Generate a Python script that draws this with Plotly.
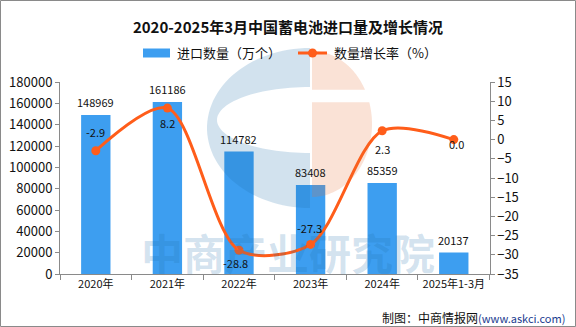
import numpy as np
import plotly.graph_objects as go
from plotly.subplots import make_subplots

categories = ["2020年", "2021年", "2022年", "2023年", "2024年", "2025年1-3月"]
import_qty = [148969, 161186, 114782, 83408, 85359, 20137]
growth = [-2.9, 8.2, -28.8, -27.3, 2.3, 0.0]
growth_labels = ["-2.9", "8.2", "-28.8", "-27.3", "2.3", "0.0"]
label_shift = [19, -15, -13, 16, -18, -4]  # pixel offsets for growth labels (positive = up)
label_xshift = [0, 0, -3, -1, 0, 3]

W, H = 576, 327
L, R, T, B = 60, 59, 82, 53
PW, PH = W - L - R, H - T - B

def px(x):
    return (x - L) / PW

def py(y):
    return (H - B - y) / PH

FONT = "Noto Sans CJK SC"
BAR_C = "#3d9ef0"
LINE_C = "#ff5d1a"

fig = make_subplots(specs=[[{"secondary_y": True}]])
fig.add_trace(go.Bar(
    x=categories, y=import_qty, name="进口数量（万个）", showlegend=False,
    marker=dict(color=BAR_C, line=dict(width=0)), width=0.41,
), secondary_y=False)
fig.add_trace(go.Scatter(
    x=categories, y=growth, name="数量增长率（%）", mode="lines+markers", showlegend=False,
    line=dict(color=LINE_C, width=3, shape="spline", smoothing=0.85),
    marker=dict(size=9, color=LINE_C), cliponaxis=False,
), secondary_y=True)

annotations = []
for c, v in zip(categories, import_qty):
    annotations.append(dict(x=c, y=v, xref="x", yref="y", text=str(v), showarrow=False,
                            yshift=13, font=dict(size=11, color="#111", family=FONT)))
for c, g, t, dy, dx in zip(categories, growth, growth_labels, label_shift, label_xshift):
    annotations.append(dict(x=c, y=g, xref="x", yref="y2", text=t, showarrow=False,
                            yshift=dy, xshift=dx, font=dict(size=11, color="#111", family=FONT)))

# watermark text
annotations.append(dict(x=px(288), y=py(251), xref="paper", yref="paper", yanchor="middle",
                        text="<b>中商产业研究院</b>", showarrow=False,
                        font=dict(size=42, color="rgba(30,110,170,0.2)", family=FONT)))
# source
annotations.append(dict(x=px(567), y=py(317), xref="paper", yref="paper", xanchor="right", yanchor="middle",
                        text="制图：中商情报网<span style='font-size:11px;color:#1a3c8f'>(www.askci.com)</span>",
                        showarrow=False, font=dict(size=12, color="#111", family=FONT)))
# legend texts
annotations.append(dict(x=px(175), y=py(53), xref="paper", yref="paper", xanchor="left", yanchor="middle",
                        text="进口数量（万个）", showarrow=False, font=dict(size=13, family=FONT, color="#111")))
annotations.append(dict(x=px(332), y=py(53), xref="paper", yref="paper", xanchor="left", yanchor="middle",
                        text="数量增长率（%）", showarrow=False, font=dict(size=13, family=FONT, color="#111")))

shapes = []
# logo watermark: blue C
th = np.linspace(np.pi / 2, 3 * np.pi / 2, 60)
outer = [(310 + 103 * np.cos(a), 128 - 80 * np.sin(a)) for a in th]
inner = [(310 + 93 * np.cos(a), 120 - 33 * np.sin(a)) for a in th[::-1]]
pts = outer + inner
path = "M " + " L ".join(f"{px(x):.4f},{py(y):.4f}" for x, y in pts) + " Z"
shapes.append(dict(type="path", path=path, xref="paper", yref="paper",
                   fillcolor="rgba(30,110,170,0.2)", line=dict(width=0), layer="above"))
# pink right half, split by a horizontal gap
th2 = np.linspace(-np.pi / 2, np.pi / 2, 120)
ell = [(312 + 60 * np.cos(a), 124 + 73 * np.sin(a)) for a in th2]
upper = [p for p in ell if p[1] <= 90]
lower = [p for p in ell if p[1] >= 102]
for piece in (upper, lower):
    pp = [(312, piece[0][1])] + piece + [(312, piece[-1][1])]
    path = "M " + " L ".join(f"{px(x):.4f},{py(y):.4f}" for x, y in pp) + " Z"
    shapes.append(dict(type="path", path=path, xref="paper", yref="paper",
                       fillcolor="rgba(230,110,50,0.2)", line=dict(width=0), layer="above"))
# legend symbols
shapes.append(dict(type="rect", xref="paper", yref="paper", x0=px(143), x1=px(170),
                   y0=py(57.5), y1=py(48.5), fillcolor=BAR_C, line=dict(width=0)))
shapes.append(dict(type="line", xref="paper", yref="paper", x0=px(298), x1=px(327),
                   y0=py(53), y1=py(53), line=dict(color=LINE_C, width=3)))
shapes.append(dict(type="circle", xref="paper", yref="paper", x0=px(308), x1=px(317),
                   y0=py(57.5), y1=py(48.5), fillcolor=LINE_C, line=dict(width=0)))
# outer border
shapes.append(dict(type="rect", xref="paper", yref="paper", x0=px(0.5), x1=px(575.5),
                   y0=py(326.5), y1=py(0.5), line=dict(color="#8a8a8a", width=1),
                   fillcolor="rgba(0,0,0,0)", layer="below"))

fig.update_layout(
    width=W, height=H, margin=dict(l=L, r=R, t=T, b=B, autoexpand=False),
    paper_bgcolor="white", plot_bgcolor="white",
    font=dict(family=FONT, color="#111"),
    title=dict(text="<b>2020-2025年3月中国蓄电池进口量及增长情况</b>", x=0.5, xanchor="center",
               y=1 - 27.5 / H, yanchor="middle", font=dict(size=15, family=FONT, color="#111")),
    showlegend=False,
    annotations=annotations, shapes=shapes,
)
fig.update_xaxes(showline=True, linecolor="#8a8a8a", linewidth=1, ticks="outside",
                 tickson="boundaries", ticklen=5, tickcolor="#8a8a8a", tickangle=0,
                 automargin=False, tickfont=dict(size=11, family=FONT), showgrid=False)
fig.update_yaxes(range=[0, 180000], dtick=20000, tickformat="d", showline=True, linecolor="#8a8a8a",
                 ticks="outside", ticklen=4, tickcolor="#8a8a8a", showgrid=False, zeroline=False,
                 automargin=False, tickfont=dict(size=13, family=FONT), secondary_y=False)
fig.update_yaxes(range=[-35, 15], dtick=5, showline=True, linecolor="#8a8a8a",
                 ticks="outside", ticklen=4, tickcolor="#8a8a8a", showgrid=False, zeroline=False,
                 automargin=False, tickfont=dict(size=13, family=FONT), secondary_y=True)

fig.write_html("out.html")
